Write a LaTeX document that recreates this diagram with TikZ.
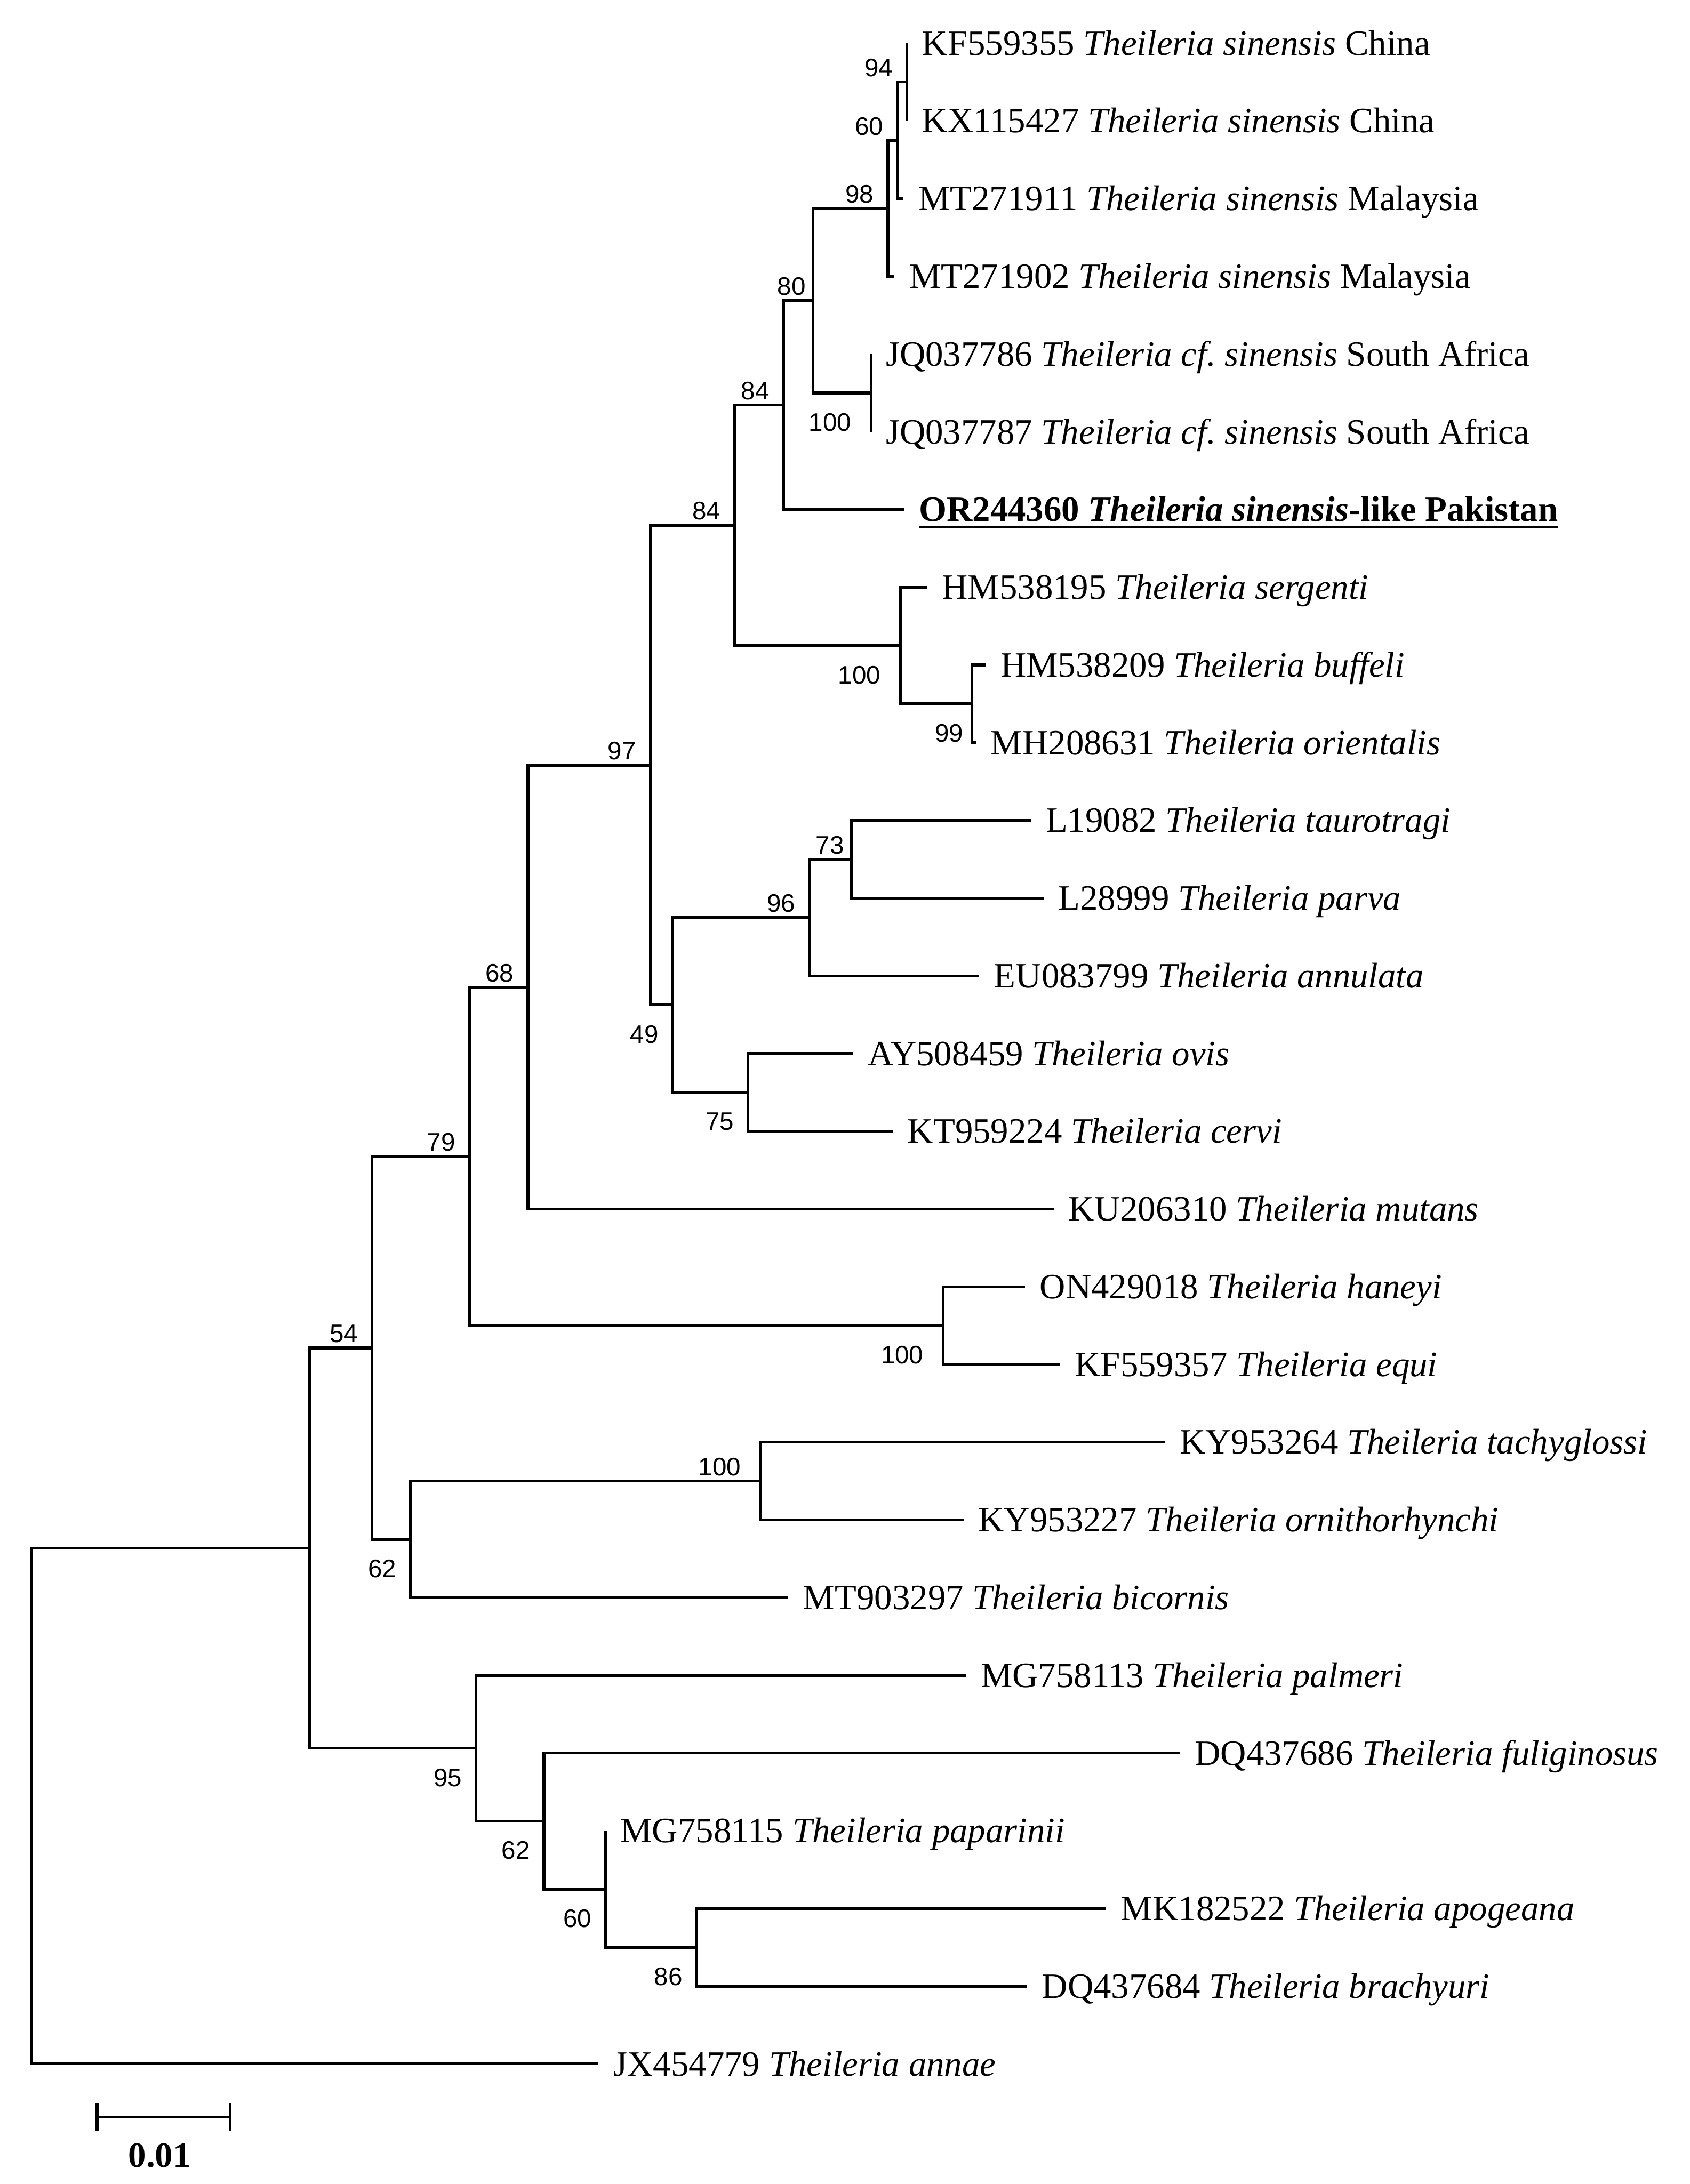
\documentclass[tikz,border=0pt]{standalone}
\usepackage{fontspec}
\setmainfont{Liberation Serif}
\newfontfamily\bsfont{Liberation Sans}
\begin{document}
\begin{tikzpicture}[x=1pt,y=-1pt,
  br/.style={line width=2pt},
  taxon/.style={anchor=base west, inner sep=0pt, xshift=10.5pt, yshift=-8.5pt, font=\fontsize{25.6}{30}\selectfont},
  bsa/.style={anchor=south east, inner sep=0pt, xshift=-10pt, yshift=3.5pt, font=\bsfont\fontsize{18.2}{21}\selectfont},
  bsb/.style={anchor=north east, inner sep=0pt, xshift=-10pt, yshift=-14.5pt, font=\bsfont\fontsize{18.2}{21}\selectfont},
  wide/.style={xshift=-4pt},
  near/.style={xshift=5pt}]
\useasboundingbox (0,0) rectangle (1213,1568);
% leaf tips
\coordinate (L1) at (651.1,31);
\coordinate (L2) at (651.1,86.8);
\coordinate (L3) at (648.5,142.6);
\coordinate (L4) at (642,198.4);
\coordinate (L5) at (625.2,254.2);
\coordinate (L6) at (625.2,310);
\coordinate (L7) at (649,365.8);
\coordinate (L8) at (665.5,421.6);
\coordinate (L9) at (707.5,477.4);
\coordinate (L10) at (700.5,533.2);
\coordinate (L11) at (740,589);
\coordinate (L12) at (749,644.8);
\coordinate (L13) at (702.8,700.6);
\coordinate (L14) at (612.5,756.4);
\coordinate (L15) at (640.8,812.2);
\coordinate (L16) at (756.4,868);
\coordinate (L17) at (735.7,923.8);
\coordinate (L18) at (760.9,979.6);
\coordinate (L19) at (836.2,1035.4);
\coordinate (L20) at (691.6,1091.2);
\coordinate (L21) at (565.8,1147);
\coordinate (L22) at (693.3,1202.8);
\coordinate (L23) at (847,1258.6);
\coordinate (L24) at (434.7,1314.4);
\coordinate (L25) at (793.9,1370.2);
\coordinate (L26) at (737.2,1426);
\coordinate (L27) at (429.7,1481.8);
% internal nodes
\coordinate (N94) at (651.1,58.9);
\coordinate (N60) at (644.1,100.75);
\coordinate (N98) at (637.4,149.6);
\coordinate (NJQ) at (625.2,282.1);
\coordinate (N80) at (583.5,215.85);
\coordinate (N84i) at (562.4,290.8);
\coordinate (N99) at (697.7,505.3);
\coordinate (N100s) at (646.2,463.45);
\coordinate (N84o) at (527.5,377.1);
\coordinate (N73) at (611,616.9);
\coordinate (N96) at (581.1,658.75);
\coordinate (N75) at (537,784.3);
\coordinate (N49) at (482.8,721.5);
\coordinate (N97) at (466.8,549.3);
\coordinate (N68) at (379,708.65);
\coordinate (Nhan) at (677,951.7);
\coordinate (N79) at (337,830.2);
\coordinate (NKY) at (546,1063.3);
\coordinate (N62u) at (294.7,1105.15);
\coordinate (N54) at (267.1,967.7);
\coordinate (N86) at (500,1398.1);
\coordinate (N60l) at (434.7,1356.25);
\coordinate (N62l) at (390.5,1307.4);
\coordinate (N95) at (341.8,1255.1);
\coordinate (NA) at (222.3,1111.4);
\coordinate (R) at (22.5,1296.6);
% branches
\foreach \p/\c in {N94/L1, N94/L2, N60/N94, N60/L3, N98/N60, N98/L4, NJQ/L5, NJQ/L6,
  N80/N98, N80/NJQ, N84i/N80, N84i/L7, N99/L9, N99/L10, N100s/L8, N100s/N99,
  N84o/N84i, N84o/N100s, N73/L11, N73/L12, N96/N73, N96/L13, N75/L14, N75/L15,
  N49/N96, N49/N75, N97/N84o, N97/N49, N68/N97, N68/L16, Nhan/L17, Nhan/L18,
  N79/N68, N79/Nhan, NKY/L19, NKY/L20, N62u/NKY, N62u/L21, N54/N79, N54/N62u,
  N86/L25, N86/L26, N60l/L24, N60l/N86, N62l/L23, N62l/N60l, N95/L22, N95/N62l,
  NA/N54, NA/N95, R/NA, R/L27}
  \draw[br] (\p) |- (\c);
% taxa
\node[taxon] (t1) at (L1) {KF559355 \textit{Theileria sinensis} China};
\node[taxon] (t2) at (L2) {KX115427 \textit{Theileria sinensis} China};
\node[taxon] (t3) at (L3) {MT271911 \textit{Theileria sinensis} Malaysia};
\node[taxon] (t4) at (L4) {MT271902 \textit{Theileria sinensis} Malaysia};
\node[taxon] (t5) at (L5) {JQ037786 \textit{Theileria cf.\ sinensis} South Africa};
\node[taxon] (t6) at (L6) {JQ037787 \textit{Theileria cf.\ sinensis} South Africa};
\node[taxon] (t7) at (L7) {\textbf{OR244360 \textit{Theileria sinensis}-like Pakistan}};
\node[taxon] (t8) at (L8) {HM538195 \textit{Theileria sergenti}};
\node[taxon] (t9) at (L9) {HM538209 \textit{Theileria buffeli}};
\node[taxon] (t10) at (L10) {MH208631 \textit{Theileria orientalis}};
\node[taxon] (t11) at (L11) {L19082 \textit{Theileria taurotragi}};
\node[taxon] (t12) at (L12) {L28999 \textit{Theileria parva}};
\node[taxon] (t13) at (L13) {EU083799 \textit{Theileria annulata}};
\node[taxon] (t14) at (L14) {AY508459 \textit{Theileria ovis}};
\node[taxon] (t15) at (L15) {KT959224 \textit{Theileria cervi}};
\node[taxon] (t16) at (L16) {KU206310 \textit{Theileria mutans}};
\node[taxon] (t17) at (L17) {ON429018 \textit{Theileria haneyi}};
\node[taxon] (t18) at (L18) {KF559357 \textit{Theileria equi}};
\node[taxon] (t19) at (L19) {KY953264 \textit{Theileria tachyglossi}};
\node[taxon] (t20) at (L20) {KY953227 \textit{Theileria ornithorhynchi}};
\node[taxon] (t21) at (L21) {MT903297 \textit{Theileria bicornis}};
\node[taxon] (t22) at (L22) {MG758113 \textit{Theileria palmeri}};
\node[taxon] (t23) at (L23) {DQ437686 \textit{Theileria fuliginosus}};
\node[taxon] (t24) at (L24) {MG758115 \textit{Theileria paparinii}};
\node[taxon] (t25) at (L25) {MK182522 \textit{Theileria apogeana}};
\node[taxon] (t26) at (L26) {DQ437684 \textit{Theileria brachyuri}};
\node[taxon] (t27) at (L27) {JX454779 \textit{Theileria annae}};
\draw[line width=1.8pt] ([yshift=-4pt]t7.base west) -- ([yshift=-4pt]t7.base east);
% bootstrap values
\node[bsa] (b94) at (N94) {94};
\node[bsa] (b60) at (N60) {60};
\node[bsa] (b98) at (N98) {98};
\node[bsb,wide] (bJQ) at (NJQ) {100};
\node[bsa,near] (b80) at (N80) {80};
\node[bsa] (b84i) at (N84i) {84};
\node[bsa] (b84o) at (N84o) {84};
\node[bsb,wide] (b100s) at (N100s) {100};
\node[bsb,xshift=4pt] (b99) at (N99) {99};
\node[bsa] (b97) at (N97) {97};
\node[bsa,near] (b73) at (N73) {73};
\node[bsa] (b96) at (N96) {96};
\node[bsb] (b49) at (N49) {49};
\node[bsb] (b75) at (N75) {75};
\node[bsa] (b68) at (N68) {68};
\node[bsa] (b79) at (N79) {79};
\node[bsb,wide] (bhan) at (Nhan) {100};
\node[bsa] (b54) at (N54) {54};
\node[bsa,wide] (bKY) at (NKY) {100};
\node[bsb] (b62u) at (N62u) {62};
\node[bsb] (b95) at (N95) {95};
\node[bsb] (b62l) at (N62l) {62};
\node[bsb] (b60l) at (N60l) {60};
\node[bsb] (b86) at (N86) {86};
% scale bar
\coordinate (sb1) at (69.7,1520);
\coordinate (sb2) at (165.3,1520);
\draw[br] (sb1) -- (sb2);
\draw[br] ([yshift=10pt]sb1) -- ([yshift=-10pt]sb1);
\draw[br] ([yshift=10pt]sb2) -- ([yshift=-10pt]sb2);
\node[anchor=base, inner sep=0pt, font=\fontsize{25.6}{30}\selectfont\bfseries] (sbl) at (114.5,1556) {0.01};
\end{tikzpicture}
\end{document}
